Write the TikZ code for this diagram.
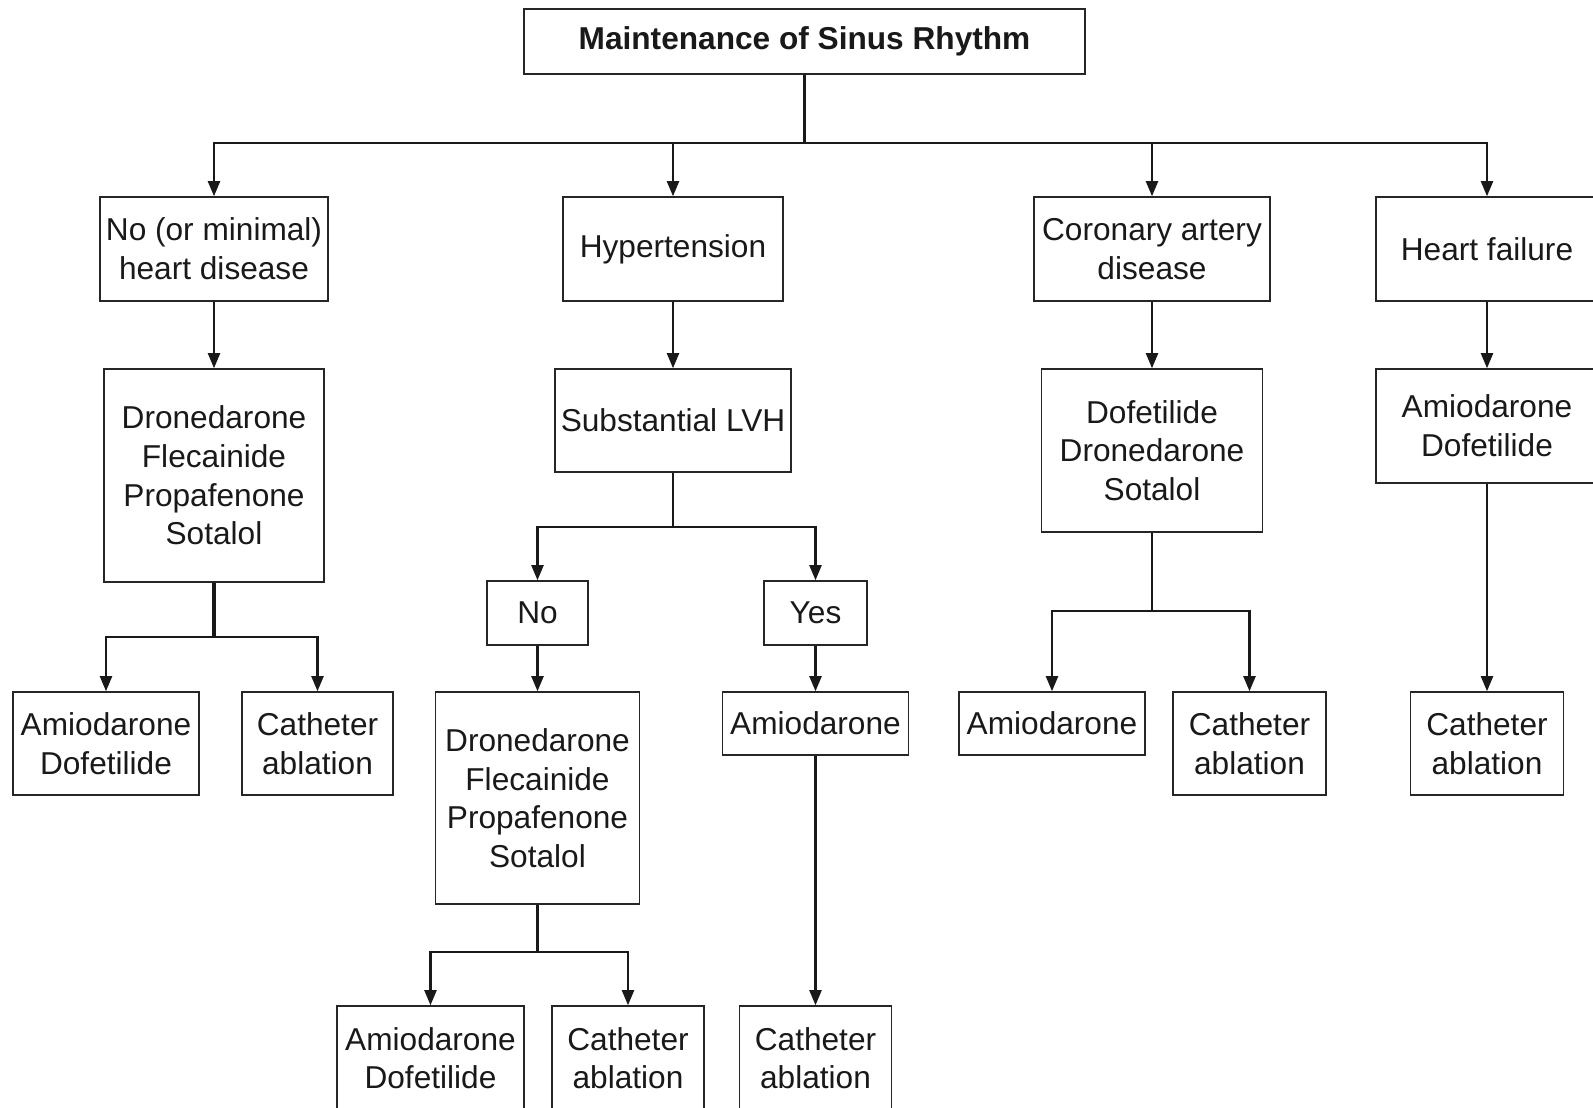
\documentclass[tikz,border=0pt]{standalone}
\usepackage{fontspec}
\setmainfont{Liberation Sans}
\usetikzlibrary{arrows.meta}
\begin{document}
\begin{tikzpicture}[
  font=\fontsize{9}{11}\selectfont,
  box/.style={draw=black!85, line width=0.45pt, inner sep=0pt, align=center, text=black!90},
  arr/.style={draw=black!90, line width=0.6pt, -{Triangle[length=0.15cm,width=0.12cm]}},
  ln/.style={draw=black!90, line width=0.6pt},
  thk/.style={draw=black!90, line width=1.1pt}
]
\useasboundingbox (0,0) rectangle (15.93,-11.07);
\clip (0,0) rectangle (15.93,-11.07);
% top
\node[box, minimum width=5.61cm, minimum height=0.65cm, font=\fontsize{9}{11}\selectfont\bfseries] (top) at (8.045,-0.415) {Maintenance of Sinus Rhythm};
% level 1
\node[box, minimum width=2.28cm, minimum height=1.04cm] (A) at (2.14,-2.49) {No (or minimal)\\heart disease};
\node[box, minimum width=2.20cm, minimum height=1.04cm] (B) at (6.73,-2.49) {Hypertension};
\node[box, minimum width=2.36cm, minimum height=1.04cm] (C) at (11.52,-2.49) {Coronary artery\\disease};
\node[box, minimum width=2.22cm, minimum height=1.04cm] (D) at (14.87,-2.49) {Heart failure};
% level 2
\node[box, minimum width=2.20cm, minimum height=2.13cm] (A2) at (2.14,-4.755) {Dronedarone\\Flecainide\\Propafenone\\Sotalol};
\node[box, minimum width=2.36cm, minimum height=1.03cm] (B2) at (6.73,-4.205) {Substantial LVH};
\node[box, minimum width=2.21cm, minimum height=1.63cm] (C2) at (11.52,-4.505) {Dofetilide\\Dronedarone\\Sotalol};
\node[box, minimum width=2.22cm, minimum height=1.14cm] (D2) at (14.87,-4.26) {Amiodarone\\Dofetilide};
% level 3
\node[box, minimum width=1.86cm, minimum height=1.03cm] (A3a) at (1.06,-7.435) {Amiodarone\\Dofetilide};
\node[box, minimum width=1.51cm, minimum height=1.03cm] (A3b) at (3.175,-7.435) {Catheter\\ablation};
\node[box, minimum width=1.01cm, minimum height=0.64cm] (Bno) at (5.375,-6.13) {No};
\node[box, minimum width=1.03cm, minimum height=0.64cm] (Byes) at (8.155,-6.13) {Yes};
\node[box, minimum width=2.04cm, minimum height=2.12cm] (Bno2) at (5.375,-7.98) {Dronedarone\\Flecainide\\Propafenone\\Sotalol};
\node[box, minimum width=1.86cm, minimum height=0.63cm] (Byes2) at (8.155,-7.235) {Amiodarone};
\node[box, minimum width=1.87cm, minimum height=1.04cm] (Bno3a) at (4.305,-10.58) {Amiodarone\\Dofetilide};
\node[box, minimum width=1.52cm, minimum height=1.04cm] (Bno3b) at (6.28,-10.58) {Catheter\\ablation};
\node[box, minimum width=1.52cm, minimum height=1.04cm] (Byes3) at (8.155,-10.58) {Catheter\\ablation};
\node[box, minimum width=1.86cm, minimum height=0.63cm] (C3a) at (10.52,-7.235) {Amiodarone};
\node[box, minimum width=1.53cm, minimum height=1.03cm] (C3b) at (12.495,-7.435) {Catheter\\ablation};
\node[box, minimum width=1.53cm, minimum height=1.03cm] (D3) at (14.87,-7.435) {Catheter\\ablation};
% coordinates for bus lines
\coordinate (bus0) at (0,-1.43);
\coordinate (busA) at (0,-6.37);
\coordinate (busB) at (0,-5.27);
\coordinate (busBn) at (0,-9.52);
\coordinate (busC) at (0,-6.11);
% connectors
\draw[ln] (top.south) -- (top.south |- bus0);
\foreach \n in {A,B,C,D} \draw[arr] (top.south |- bus0) -| (\n.north);
\draw[arr] (A) -- (A2);
\draw[arr] (B) -- (B2);
\draw[arr] (C) -- (C2);
\draw[arr] (D) -- (D2);
\draw[thk] (A2.south) -- (A2.south |- busA);
\draw[arr] (A2.south |- busA) -| (A3a.north);
\draw[arr] (A2.south |- busA) -| (A3b.north);
\draw[ln] (B2.south) -- (B2.south |- busB);
\draw[arr] (B2.south |- busB) -| (Bno.north);
\draw[arr] (B2.south |- busB) -| (Byes.north);
\draw[arr] (Bno) -- (Bno2);
\draw[arr] (Byes) -- (Byes2);
\draw[thk] (Bno2.south) -- (Bno2.south |- busBn);
\draw[arr] (Bno2.south |- busBn) -| (Bno3a.north);
\draw[arr] (Bno2.south |- busBn) -| (Bno3b.north);
\draw[arr] (Byes2) -- (Byes3);
\draw[ln] (C2.south) -- (C2.south |- busC);
\draw[arr] (C2.south |- busC) -| (C3a.north);
\draw[arr] (C2.south |- busC) -| (C3b.north);
\draw[arr] (D2) -- (D3);
\end{tikzpicture}
\end{document}
